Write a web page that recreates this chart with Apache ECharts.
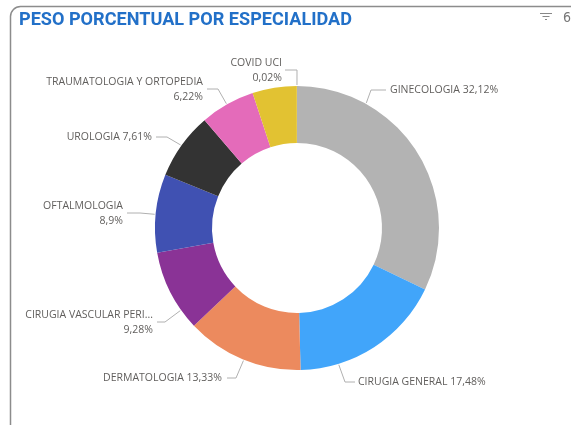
<!DOCTYPE html>
<html>
<head>
<meta charset="utf-8">
<script src="https://cdn.jsdelivr.net/npm/echarts@6/dist/echarts.min.js"></script>
<style>
html,body{margin:0;padding:0;background:#fff;}
#chart{width:571px;height:425px;}
</style>
</head>
<body>
<div id="chart"></div>
<script>
const categories = ['GINECOLOGIA','CIRUGIA GENERAL','DERMATOLOGIA','CIRUGIA VASCULAR PERI...','OFTALMOLOGIA','UROLOGIA','TRAUMATOLOGIA Y ORTOPEDIA','OTROS','COVID UCI'];
const values = [32.12, 17.48, 13.33, 9.28, 8.9, 7.61, 6.22, 5.04, 0.02];
const colors = ['#B3B3B3','#41A5FA','#EC8A5E','#8A3396','#4051B2','#333333','#E46BBA','#E2C232','#E2C232'];
const twoLine = new Set(['CIRUGIA VASCULAR PERI...','OFTALMOLOGIA','TRAUMATOLOGIA Y ORTOPEDIA','COVID UCI']);
const hiddenLabel = new Set(['OTROS']);

// label guide layout (styling): [anchor angle deg clockwise from top, elbowX, elbowY, lineEndX, textGap, side]
const CENTER = [297, 228], R_OUT = 142, R_IN = 85;
const labelGuide = {
  'GINECOLOGIA':               [29,   371, 90,  386, 4, 'left'],
  'CIRUGIA GENERAL':           [163,  345, 382, 355, 3, 'left'],
  'DERMATOLOGIA':              [202,  236, 378, 227, 5, 'right'],
  'CIRUGIA VASCULAR PERI...':  [234.7,165, 322, 157, 4, 'right'],
  'OFTALMOLOGIA':              [275.5,140, 213, 127, 4, 'right'],
  'UROLOGIA':                  [305.5,167, 137, 156, 4, 'right'],
  'TRAUMATOLOGIA Y ORTOPEDIA': [330.4,218, 89,  207, 4, 'right'],
  'COVID UCI':                 [359.99,297,70,  285, 3, 'right']
};

const chart = echarts.init(document.getElementById('chart'));
const data = categories.map((c, i) => ({
  name: c,
  value: values[i],
  itemStyle: {color: colors[i]},
  label: {show: !hiddenLabel.has(c)},
  labelLine: {show: !hiddenLabel.has(c)}
}));

// fit title width like the reference's condensed font
const titleText = 'PESO PORCENTUAL POR ESPECIALIDAD';
const titleFont = 'bold 19px Roboto, "Liberation Sans", sans-serif';
const cv = document.createElement('canvas').getContext('2d');
cv.font = titleFont;
const titleScale = 333 / cv.measureText(titleText).width;

chart.setOption({
  animation: false,
  graphic: [
    {type: 'rect', shape: {x: 10.5, y: 6.5, width: 600, height: 440, r: 10}, style: {fill: 'none', stroke: '#8c8c8c', lineWidth: 1.5}, silent: true},
    {type: 'text', x: 19, y: 20.5, scaleX: titleScale, style: {text: titleText, font: titleFont, fill: '#2270C8', verticalAlign: 'middle'}},
    {type: 'line', shape: {x1: 540, y1: 13.5, x2: 552, y2: 13.5}, style: {stroke: '#888', lineWidth: 1}},
    {type: 'line', shape: {x1: 542.5, y1: 16.5, x2: 549.5, y2: 16.5}, style: {stroke: '#888', lineWidth: 1}},
    {type: 'line', shape: {x1: 545, y1: 19.5, x2: 547, y2: 19.5}, style: {stroke: '#888', lineWidth: 1}},
    {type: 'text', x: 563, y: 18, style: {text: '6', font: '14px "DejaVu Sans Condensed", sans-serif', fill: '#777', verticalAlign: 'middle'}}
  ],
  series: [{
    type: 'pie',
    center: CENTER,
    radius: [R_IN, R_OUT],
    startAngle: 90,
    clockwise: true,
    avoidLabelOverlap: false,
    data: data,
    label: {
      show: true,
      position: 'outside',
      color: '#605E5C',
      fontFamily: '"Open Sans", "Noto Sans", sans-serif',
      fontSize: 10.5,
      lineHeight: 15,
      formatter: p => {
        const pct = String(p.value).replace('.', ',') + '%';
        return twoLine.has(p.name) ? p.name + '\n' + pct : p.name + ' ' + pct;
      }
    },
    labelLine: {show: true, length: 10, length2: 12, lineStyle: {color: '#B0B0B0', width: 1}},
    labelLayout: params => {
      const name = categories[params.dataIndex];
      const g = labelGuide[name];
      if (!g) return {};
      const a = g[0] * Math.PI / 180;
      const sx = CENTER[0] + (R_OUT + 1) * Math.sin(a);
      const sy = CENTER[1] - (R_OUT + 1) * Math.cos(a);
      const right = g[5] === 'right';
      return {
        x: right ? g[3] - g[4] : g[3] + g[4],
        y: g[2] + 0.5,
        align: g[5] === 'right' ? 'right' : 'left',
        verticalAlign: 'middle',
        labelLinePoints: [[sx, sy], [g[1], g[2]], [g[3], g[2]]]
      };
    },
    emphasis: {disabled: true}
  }]
});
</script>
</body>
</html>
